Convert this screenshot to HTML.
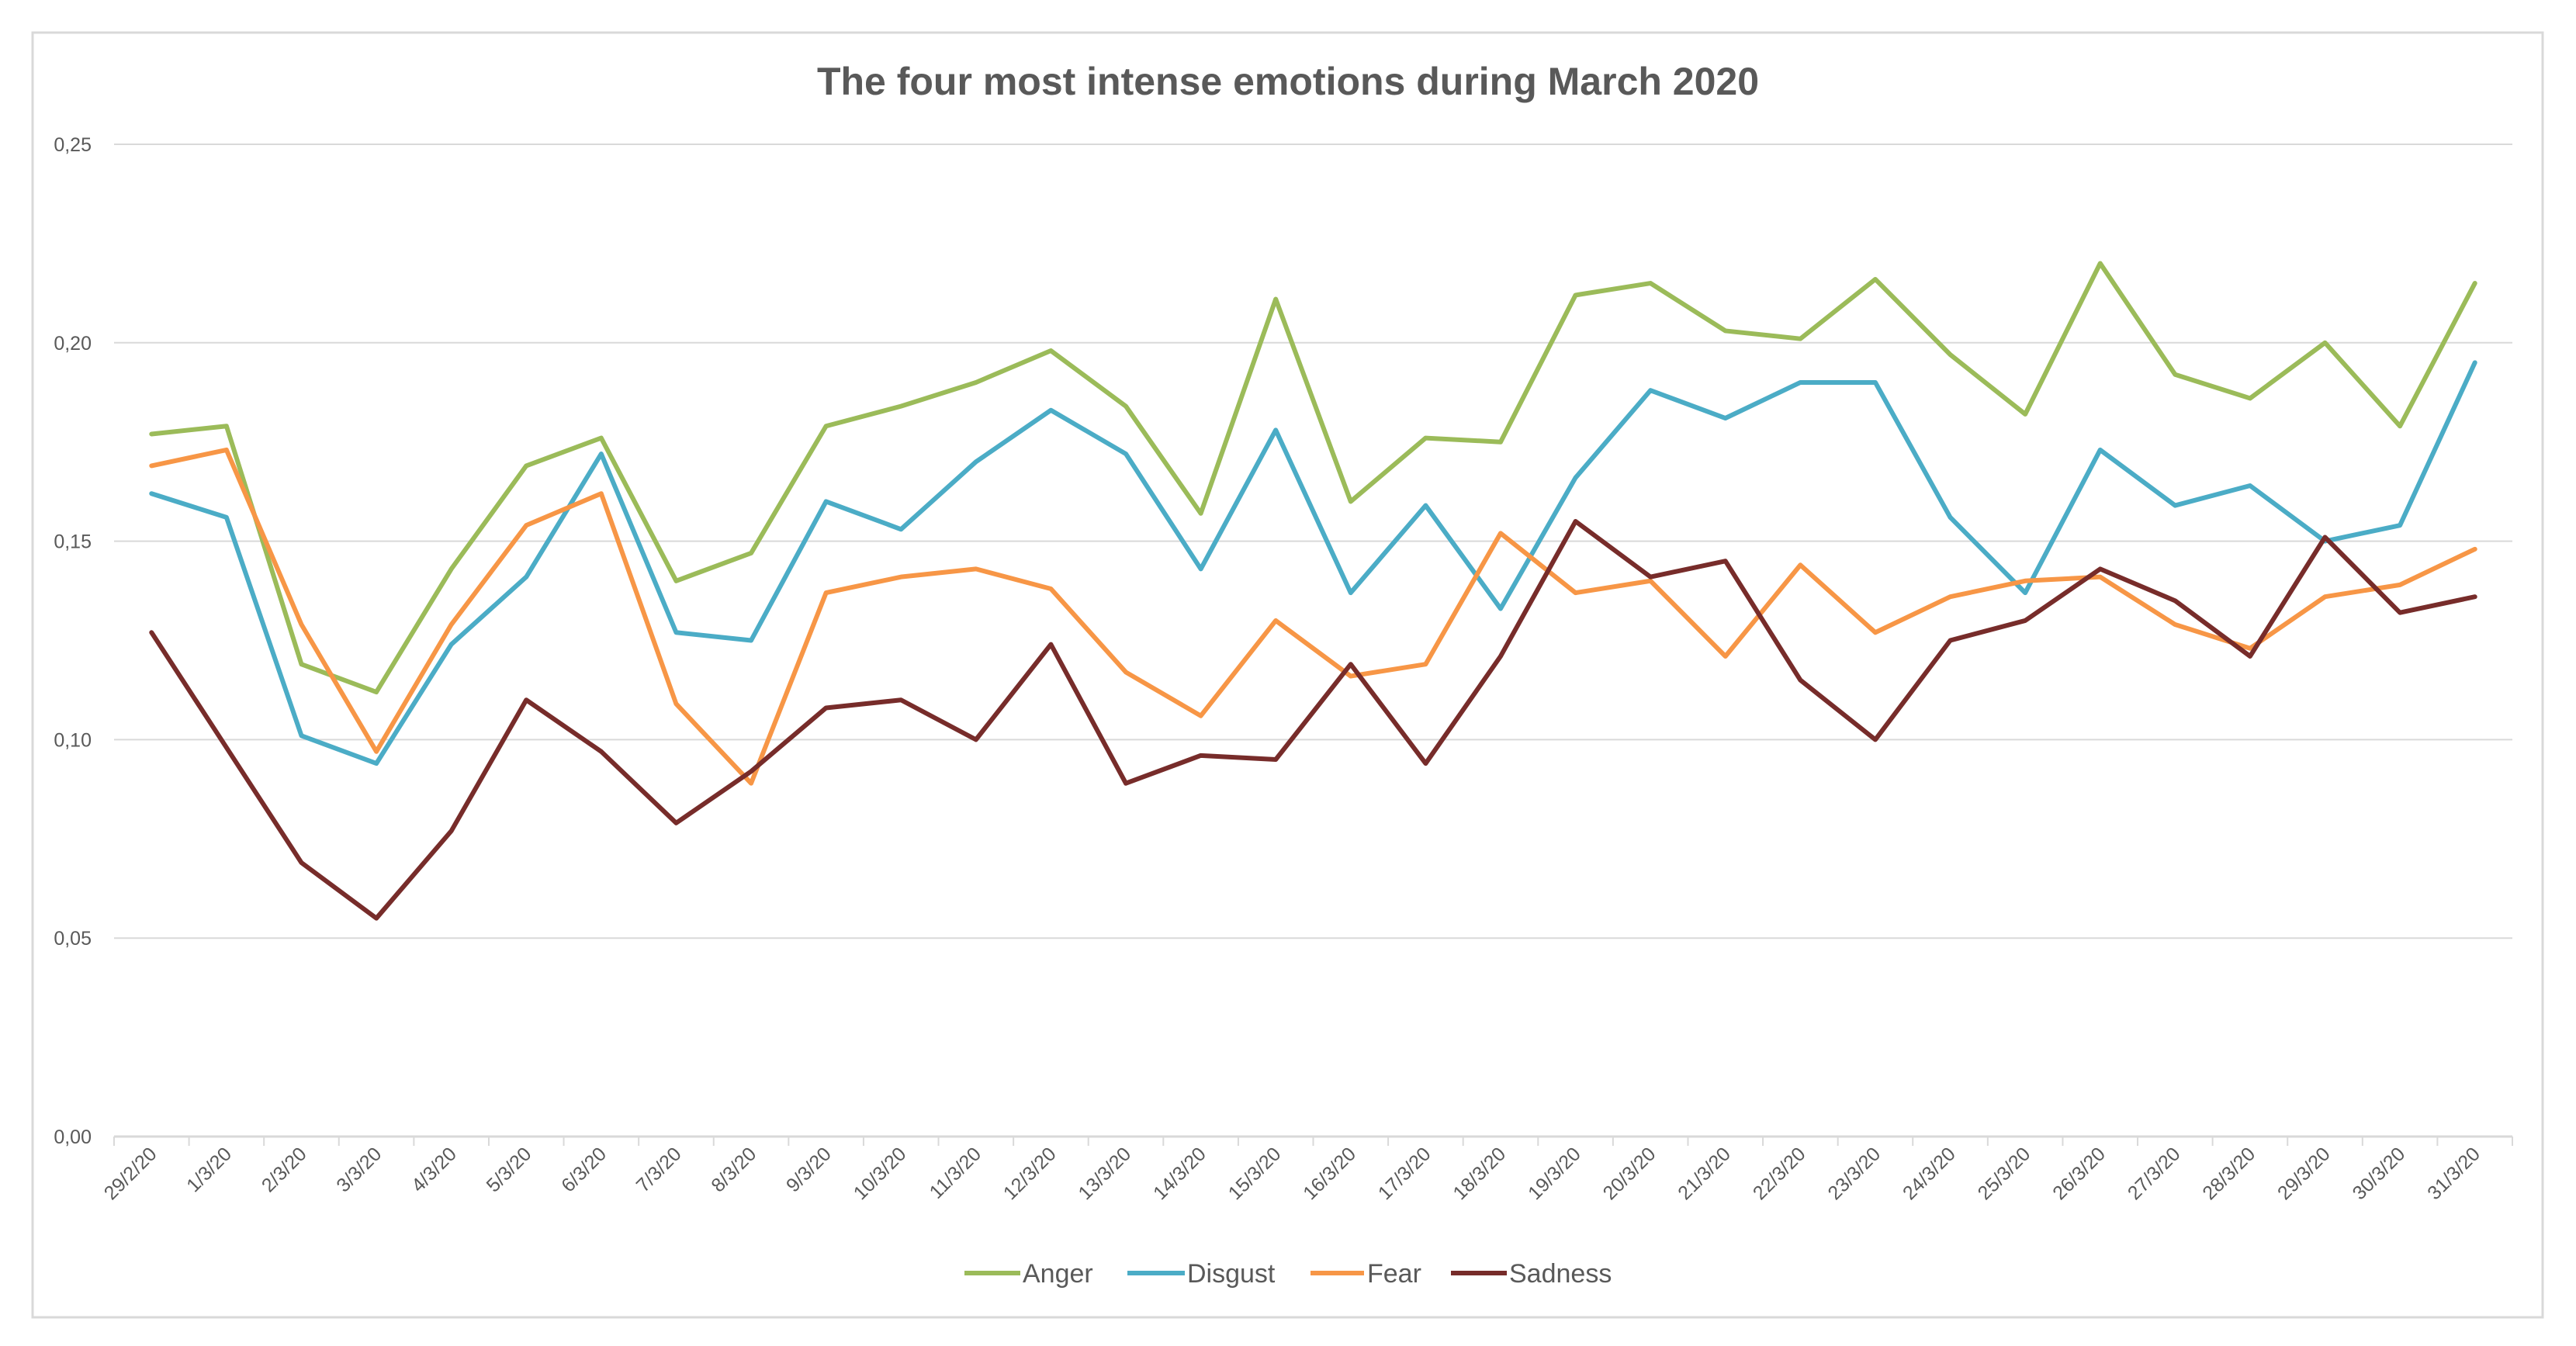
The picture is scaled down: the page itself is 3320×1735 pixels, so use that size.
<!DOCTYPE html>
<html><head><meta charset="utf-8"><style>
html,body{margin:0;padding:0;background:#fff;}
svg{display:block;font-family:"Liberation Sans",sans-serif;}
</style></head><body>
<svg id="chart" width="3320" height="1735" viewBox="0 0 3320 1735">
<rect x="42" y="42" width="3235" height="1656" fill="#fff" stroke="#d9d9d9" stroke-width="3"/>
<text x="1660" y="122" text-anchor="middle" font-size="50" font-weight="bold" fill="#595959">The four most intense emotions during March 2020</text>
<g id="grid"></g><g id="yticks"></g><g id="xticks"></g><g id="series"></g>
<g id="legend">
<line x1="1243" y1="1641" x2="1315" y2="1641" stroke="#9BBB59" stroke-width="6"/>
<text x="1318" y="1653" font-size="34" fill="#595959">Anger</text>
<line x1="1453" y1="1641" x2="1527" y2="1641" stroke="#4BACC6" stroke-width="6"/>
<text x="1530" y="1653" font-size="34" fill="#595959">Disgust</text>
<line x1="1689" y1="1641" x2="1758" y2="1641" stroke="#F79646" stroke-width="6"/>
<text x="1762" y="1653" font-size="34" fill="#595959">Fear</text>
<line x1="1870" y1="1641" x2="1942" y2="1641" stroke="#772C2A" stroke-width="6"/>
<text x="1945" y="1653" font-size="34" fill="#595959">Sadness</text>
</g>
</svg>
<script>
const categories = ["29/2/20","1/3/20","2/3/20","3/3/20","4/3/20","5/3/20","6/3/20","7/3/20","8/3/20","9/3/20","10/3/20","11/3/20","12/3/20","13/3/20","14/3/20","15/3/20","16/3/20","17/3/20","18/3/20","19/3/20","20/3/20","21/3/20","22/3/20","23/3/20","24/3/20","25/3/20","26/3/20","27/3/20","28/3/20","29/3/20","30/3/20","31/3/20"];
const anger = [0.177,0.179,0.119,0.112,0.143,0.169,0.176,0.140,0.147,0.179,0.184,0.190,0.198,0.184,0.157,0.211,0.160,0.176,0.175,0.212,0.215,0.203,0.201,0.216,0.197,0.182,0.220,0.192,0.186,0.200,0.179,0.215];
const disgust = [0.162,0.156,0.101,0.094,0.124,0.141,0.172,0.127,0.125,0.160,0.153,0.170,0.183,0.172,0.143,0.178,0.137,0.159,0.133,0.166,0.188,0.181,0.190,0.190,0.156,0.137,0.173,0.159,0.164,0.150,0.154,0.195];
const fear = [0.169,0.173,0.129,0.097,0.129,0.154,0.162,0.109,0.089,0.137,0.141,0.143,0.138,0.117,0.106,0.130,0.116,0.119,0.152,0.137,0.140,0.121,0.144,0.127,0.136,0.140,0.141,0.129,0.123,0.136,0.139,0.148];
const sadness = [0.127,0.098,0.069,0.055,0.077,0.110,0.097,0.079,0.092,0.108,0.110,0.100,0.124,0.089,0.096,0.095,0.119,0.094,0.121,0.155,0.141,0.145,0.115,0.100,0.125,0.130,0.143,0.135,0.121,0.151,0.132,0.136];
const yTicks = [0,0.05,0.10,0.15,0.20,0.25];
const yTickLabels = ["0,00","0,05","0,10","0,15","0,20","0,25"];

const NS="http://www.w3.org/2000/svg";
const X0=147, X1=3238, Y0=1465, Y1=186, YMAX=0.25;
const bw=(X1-X0)/categories.length;
function xs(i){return X0+bw*(i+0.5);}
function ys(v){return Y0-(v/YMAX)*(Y0-Y1);}
function mk(tag,attrs,parent){const e=document.createElementNS(NS,tag);for(const k in attrs)e.setAttribute(k,attrs[k]);parent.appendChild(e);return e;}
const grid=document.getElementById('grid'), yt=document.getElementById('yticks'), xt=document.getElementById('xticks'), ser=document.getElementById('series');
yTicks.forEach((v,i)=>{
  const l=mk('line',{x1:X0,x2:X1,y1:ys(v),y2:ys(v),stroke:'#d9d9d9','stroke-width':v===0?3:2},grid);
  
  
  const t=mk('text',{x:118,y:ys(v)+9,'text-anchor':'end','font-size':25,fill:'#595959'},yt);
  t.textContent=yTickLabels[i];
  
  
});
categories.forEach((c,i)=>{
  const tk=mk('line',{x1:X0+bw*i,x2:X0+bw*i,y1:Y0,y2:Y0+12,stroke:'#d9d9d9','stroke-width':2},xt);
  
  
  const x=xs(i)+8, y=Y0+24;
  const t=mk('text',{x:x,y:y,'text-anchor':'end','font-size':25,fill:'#595959',transform:`rotate(-45 ${x} ${y})`},xt);
  t.textContent=c;
  
  
});
const last=mk('line',{x1:X1,x2:X1,y1:Y0,y2:Y0+12,stroke:'#d9d9d9','stroke-width':2},xt);


[[anger,'#9BBB59','anger'],[disgust,'#4BACC6','disgust'],[fear,'#F79646','fear'],[sadness,'#772C2A','sadness']].forEach(([d,col,n])=>{
  const p=mk('polyline',{points:d.map((v,i)=>xs(i)+','+ys(v)).join(' '),fill:'none',stroke:col,'stroke-width':6,'stroke-linejoin':'round','stroke-linecap':'round'},ser);
  
  
});
</script>
</body></html>
